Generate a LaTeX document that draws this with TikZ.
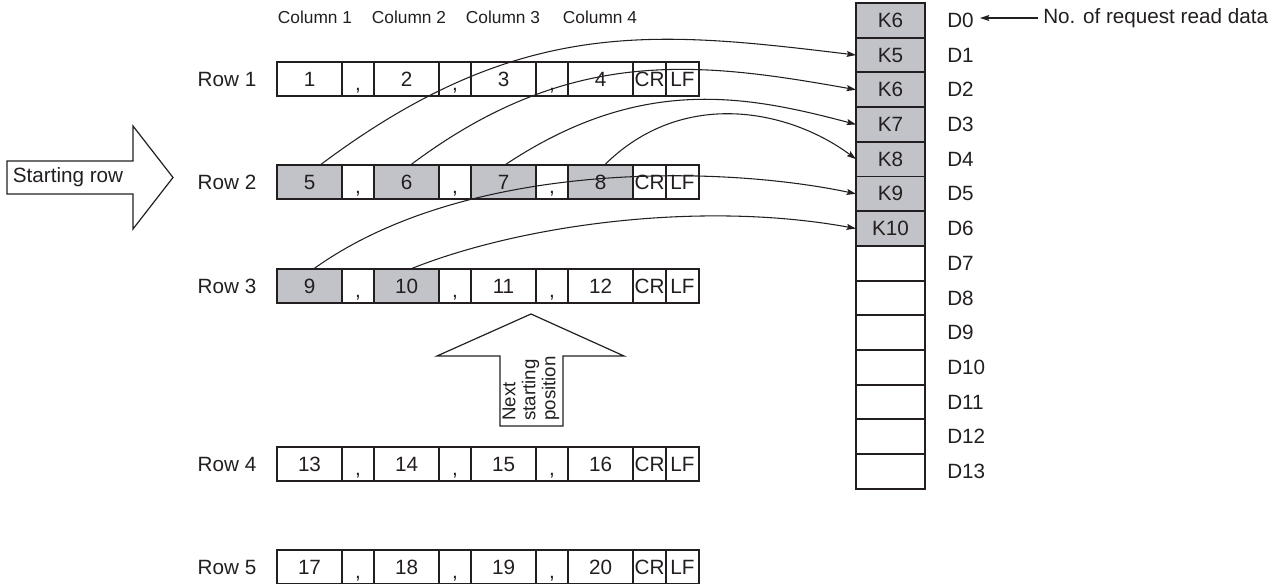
\documentclass[tikz,border=0pt]{standalone}
\usepackage{fontspec}
\setmainfont{Liberation Sans}
\usetikzlibrary{arrows.meta}
\newcommand\pxu{0.75pt}
\newcommand\fsmain{\fontsize{15.5}{18}\selectfont}
\newcommand\fssmall{\fontsize{13}{15}\selectfont}
\newcommand\fsnext{\fontsize{14}{15}\selectfont}
\definecolor{shade}{RGB}{193,195,201}
\definecolor{ink}{RGB}{35,31,32}
\tikzset{
  cellbox/.style={draw=ink, line width=1.4pt, minimum height=34*\pxu, inner sep=0pt, outer sep=0pt,
    font=\fsmain, text=ink, text height=11.5pt, text depth=0pt},
  commabox/.style={cellbox, minimum width=32*\pxu, fill=white},
  regbox/.style={draw=ink, line width=1.4pt, minimum width=69*\pxu, minimum height=34.7*\pxu, inner sep=0pt,
    outer sep=0pt, font=\fsmain, text=ink},
  lab/.style={font=\fsmain, text=ink, inner sep=0pt},
  collab/.style={font=\fssmall, text=ink, inner sep=0pt},
  conn/.style={draw=ink, line width=0.8pt, -{Stealth[length=7pt,width=4.5pt,inset=1.2pt]}},
  bigarrow/.style={draw=ink, line width=0.9pt, fill=white, line join=miter},
}
\begin{document}
\begin{tikzpicture}[x=0.75pt,y=-0.75pt]
\useasboundingbox (0,0) rectangle (1283,584);

% column labels
\node[collab] (col1) at (315,17) {Column 1};
\node[collab] (col2) at (409,17) {Column 2};
\node[collab] (col3) at (503,17) {Column 3};
\node[collab] (col4) at (600,17) {Column 4};

% rows
\foreach \r/\y/\a/\b/\c/\d/\fa/\fb/\fc/\fd in {
  1/79/1/2/3/4/white/white/white/white,
  2/182/5/6/7/8/shade/shade/shade/shade,
  3/286/9/10/11/12/shade/shade/white/white,
  4/464/13/14/15/16/white/white/white/white,
  5/567/17/18/19/20/white/white/white/white}{
  \node[lab] (row\r) at (227,\y) {Row \r};
  \node[cellbox, minimum width=65*\pxu, fill=\fa] (r\r c1) at (309.5,\y) {\a};
  \node[commabox] (r\r c2) at (358,\y) {\raisebox{-3pt}{,}};
  \node[cellbox, minimum width=65*\pxu, fill=\fb] (r\r c3) at (406.5,\y) {\b};
  \node[commabox] (r\r c4) at (455,\y) {\raisebox{-3pt}{,}};
  \node[cellbox, minimum width=65*\pxu, fill=\fc] (r\r c5) at (503.5,\y) {\c};
  \node[commabox] (r\r c6) at (552,\y) {\raisebox{-3pt}{,}};
  \node[cellbox, minimum width=65*\pxu, fill=\fd] (r\r c7) at (600.5,\y) {\d};
  \node[cellbox, minimum width=33*\pxu, fill=white] (r\r c8) at (649.5,\y) {CR};
  \node[cellbox, minimum width=33*\pxu, fill=white] (r\r c9) at (682.5,\y) {LF};
}

% register column
\foreach \i/\k/\f in {0/K6/shade,1/K5/shade,2/K6/shade,3/K7/shade,4/K8/shade,5/K9/shade,6/K10/shade,
  7//white,8//white,9//white,10//white,11//white,12//white,13//white}{
  \pgfmathsetmacro\yy{3+34.7*\i+17.35}
  \node[regbox, fill=\f] (reg\i) at (890.5,\yy) {\k};
  \node[lab, anchor=west] (dlab\i) at (947,\yy) {D\i};
}

% note on D0
\node[lab, anchor=west] (note) at (1043,18) {No. of request read data};
\draw[conn] ([xshift=-4pt]note.west) -- ([xshift=4.5pt]dlab0.east |- note.west);

% starting row arrow
\draw[bigarrow] (7,161) -- (133,161) -- (133,126) -- (173,177.5) -- (133,229) -- (133,194) -- (7,194) -- cycle;
\node[lab] (startrow) at (68,177.5) {Starting row};

% next starting position arrow
\draw[bigarrow] (531,314) -- (624,356) -- (563,356) -- (563,426) -- (500,426) -- (500,356) -- (437,356) -- cycle;
\node[font=\fsnext, text=ink, rotate=90, anchor=west, align=left, inner sep=0pt] (nextpos) at (531,421)
  {Next\\starting\\position};

% connectors
\draw[conn] ([xshift=8pt]r2c1.north) .. controls (520,15) and (656,31) .. (reg1.west);
\draw[conn] ([xshift=3pt]r2c3.north) .. controls (570,45) and (700,62) .. (reg2.west);
\draw[conn] ([xshift=1pt]r2c5.north) .. controls (640,75) and (745,95) .. (reg3.west);
\draw[conn] ([xshift=3pt]r2c7.north) .. controls (683,87) and (790,110) .. (reg4.west);
\draw[conn] ([xshift=3pt]r3c1.north) .. controls (465,160) and (720,165) .. (reg5.west);
\draw[conn] ([xshift=3pt]r3c3.north) .. controls (520,225) and (700,200) .. (reg6.west);
\end{tikzpicture}
\end{document}
